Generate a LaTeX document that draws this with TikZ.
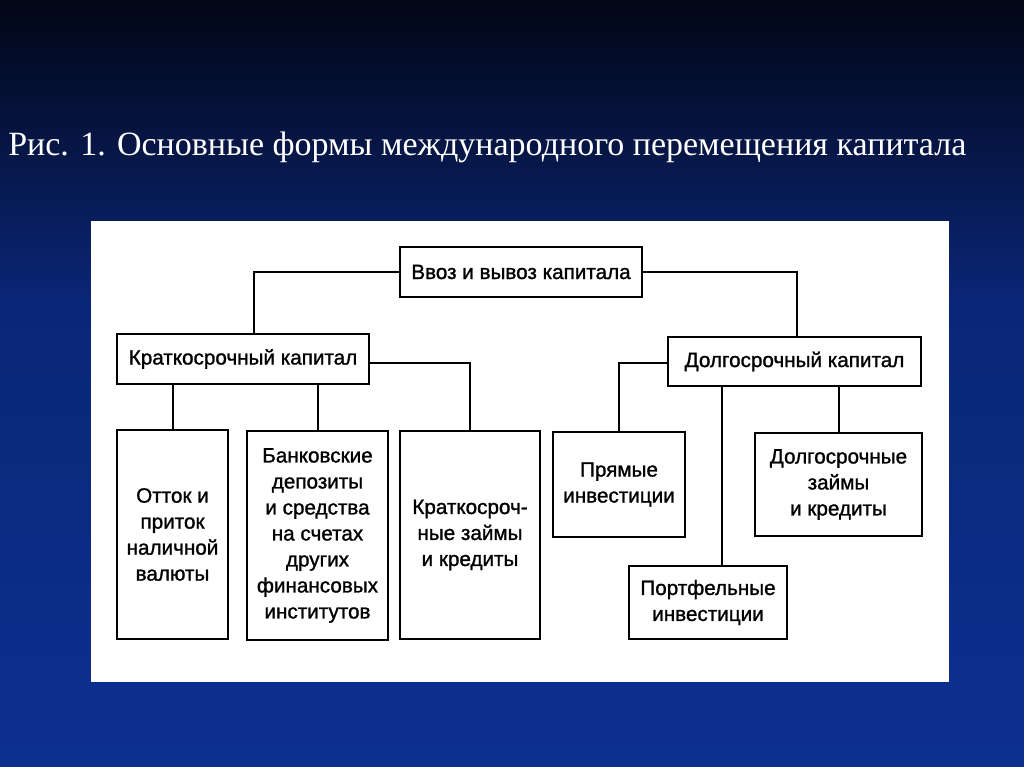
\documentclass[tikz,border=0pt]{standalone}
\usepackage{fontspec}
\setmainfont{Liberation Serif}
\newfontfamily\boxfont[FakeBold=1.2]{Liberation Sans}
\definecolor{bgtop}{RGB}{2,6,22}
\definecolor{bgmid}{RGB}{10,38,118}
\definecolor{bgbot}{RGB}{12,48,145}
\begin{document}
\begin{tikzpicture}[x=0.75pt, y=-0.75pt,
    blk/.style={draw, line width=1.5pt, inner sep=0pt, align=center,
                font=\boxfont\fontsize{15.5}{19.5}\selectfont},
    link/.style={line width=1.5pt}]
        \useasboundingbox (0,0) rectangle (1024,767);
        \shade [top color=bgtop, bottom color=bgmid] (0,0) rectangle (1024,300);    %
        \shade [top color=bgmid, bottom color=bgbot] (0,300) rectangle (1024,767);  %
        \node [anchor=base west, text=white, inner sep=0pt,
               font=\fontsize{25.5}{30}\selectfont] (title) at (8,155)
              {\scalebox{1.0}[1.0]{Рис. 1. Основные формы международного перемещения капитала}};
        \fill [white] (91,221) rectangle (949,682);                                %sheet
        % top level
        \node [blk, minimum width=181.5pt, minimum height=37.5pt] (flow)  at (521,272)   {Ввоз и вывоз капитала};
        \node [blk, minimum width=189pt,   minimum height=37.5pt] (short) at (243,359)   {Краткосрочный капитал};
        \node [blk, minimum width=189.75pt, minimum height=36.75pt] (long) at (794.5,361.5) {Долгосрочный капитал};
        % short term
        \node [blk, minimum width=83.25pt,  minimum height=156.75pt] (cash) at (172.5,534.5) {Отток и\\приток\\наличной\\валюты};
        \node [blk, minimum width=105.75pt, minimum height=156.75pt] (bank) at (317.5,535.5) {Банковские\\депозиты\\и средства\\на счетах\\других\\финансовых\\институтов};
        \node [blk, minimum width=105pt,    minimum height=156pt]    (sloan) at (470,535)    {Краткосроч-\\ные займы\\и кредиты};
        % long term
        \node [blk, minimum width=99pt,     minimum height=78.75pt]  (direct) at (619,484.5) {Прямые\\инвестиции};
        \node [blk, minimum width=125.25pt, minimum height=77.25pt]  (lloan)  at (838.5,484.5) {Долгосрочные\\займы\\и кредиты};
        \node [blk, minimum width=118.5pt,  minimum height=54.75pt]  (portf)  at (708,602.5) {Портфельные\\инвестиции};
        % links
        \draw [link] (flow.west) -| ([xshift=8.25pt]short.north);                  %
        \draw [link] (flow.east) -| ([xshift=1.9pt]long.north);                    %
        \draw [link] ([yshift=-3pt]short.east) -| (sloan.north);                   %
        \draw [link] (cash.north |- short.south) -- (cash.north);                  %
        \draw [link] (bank.north |- short.south) -- (bank.north);                  %
        \draw [link] ([yshift=-1pt]long.west) -| (direct.north);                   %
        \draw [link] ([xshift=10.5pt]portf.north |- long.south) -- ([xshift=10.5pt]portf.north); %
        \draw [link] (lloan.north |- long.south) -- (lloan.north);                 %
\end{tikzpicture}
\end{document}
